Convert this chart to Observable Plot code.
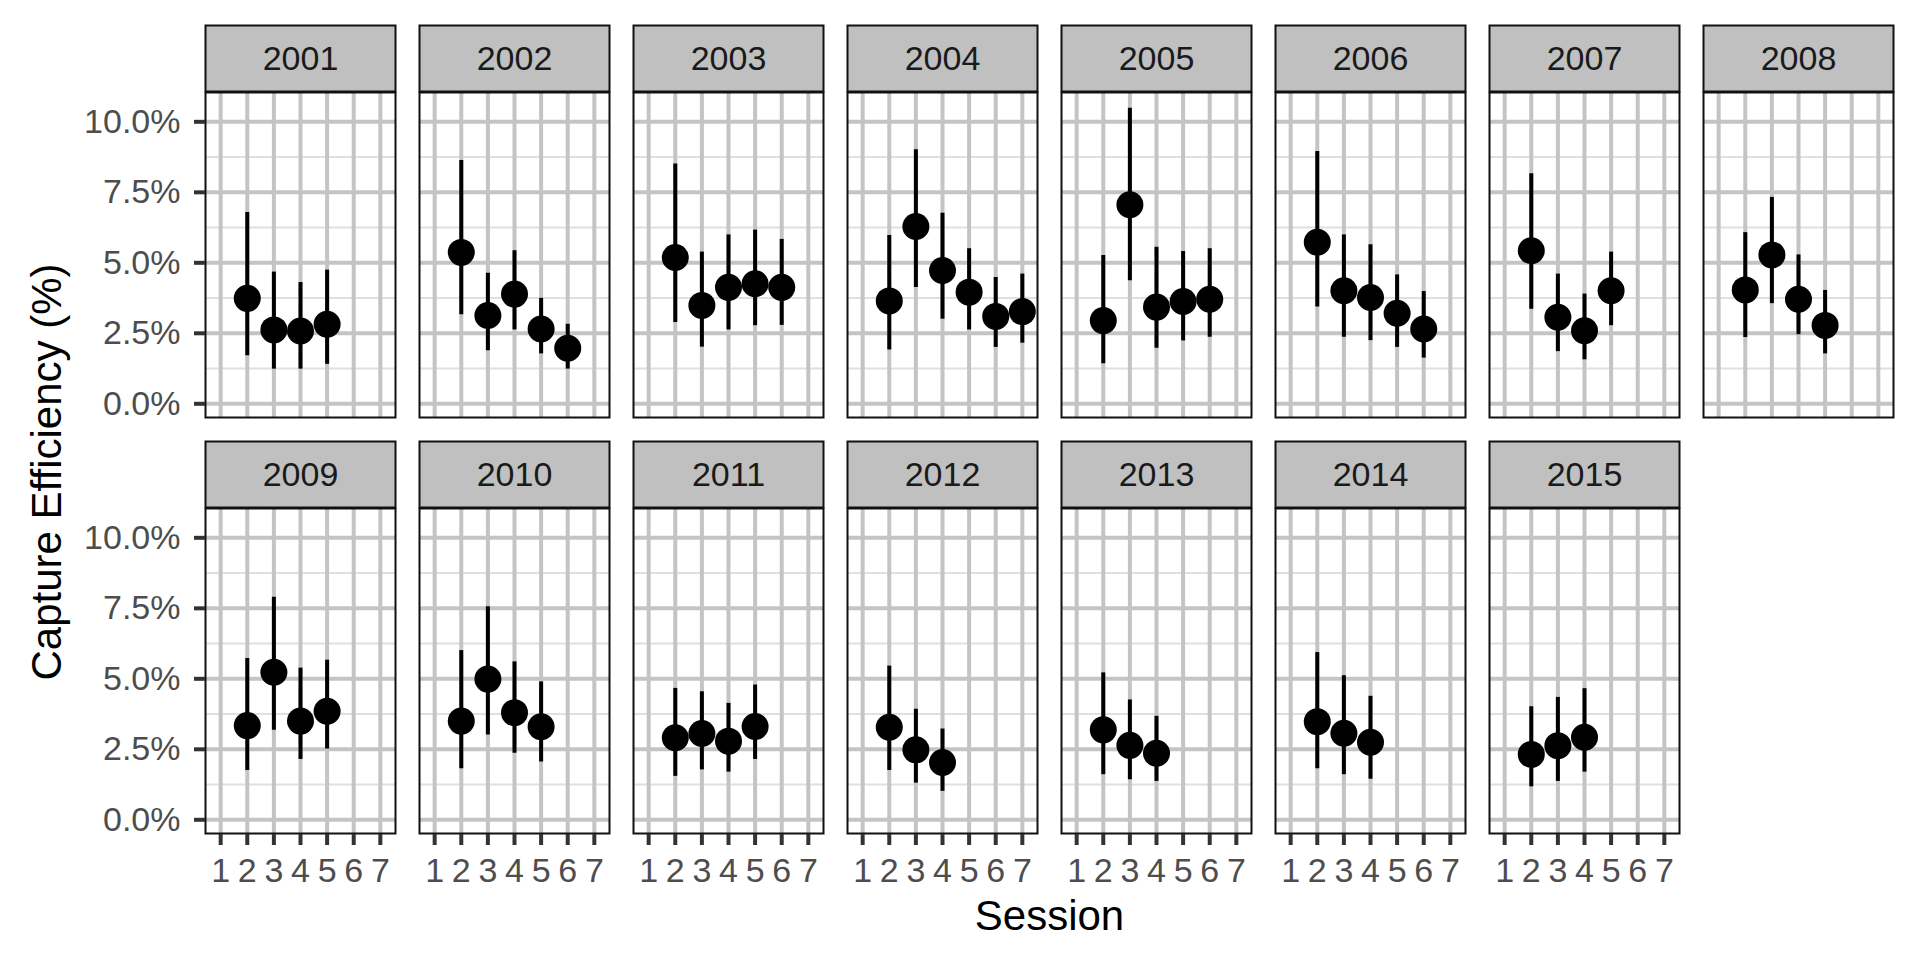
<!DOCTYPE html>
<html>
<head>
<meta charset="utf-8">
<script src="https://cdn.jsdelivr.net/npm/d3@7"></script>
<script src="https://cdn.jsdelivr.net/npm/@observablehq/plot@0.6"></script>
<style>
  html, body { margin: 0; padding: 0; background: #fff; }
  #chart { width: 1920px; height: 960px; }
</style>
</head>
<body>
<div id="chart"></div>
<script>
// ---- data (capture efficiency, %) ----
const years = [2001, 2002, 2003, 2004, 2005, 2006, 2007, 2008, 2009, 2010, 2011, 2012, 2013, 2014, 2015];
const sessions = [
  [2, 3, 4, 5], [2, 3, 4, 5, 6], [2, 3, 4, 5, 6], [2, 3, 4, 5, 6, 7], [2, 3, 4, 5, 6],
  [2, 3, 4, 5, 6], [2, 3, 4, 5], [2, 3, 4, 5], [2, 3, 4, 5], [2, 3, 4, 5],
  [2, 3, 4, 5], [2, 3, 4], [2, 3, 4], [2, 3, 4], [2, 3, 4]
];
const estimate = [
  [3.74, 2.62, 2.58, 2.82],
  [5.37, 3.13, 3.89, 2.65, 1.97],
  [5.19, 3.49, 4.13, 4.26, 4.13],
  [3.65, 6.29, 4.73, 3.96, 3.10, 3.27],
  [2.95, 7.06, 3.43, 3.63, 3.71],
  [5.73, 4.01, 3.77, 3.21, 2.65],
  [5.43, 3.07, 2.59, 4.01],
  [4.04, 5.28, 3.71, 2.78],
  [3.34, 5.23, 3.50, 3.85],
  [3.50, 4.99, 3.80, 3.30],
  [2.91, 3.06, 2.79, 3.31],
  [3.28, 2.48, 2.03],
  [3.19, 2.64, 2.36],
  [3.48, 3.07, 2.75],
  [2.32, 2.63, 2.93]
];
const lower = [
  [1.70, 1.23, 1.23, 1.40],
  [3.16, 1.88, 2.62, 1.77, 1.23],
  [2.88, 2.01, 2.62, 2.77, 2.78],
  [1.91, 4.12, 3.00, 2.62, 2.00, 2.15],
  [1.42, 4.36, 1.97, 2.23, 2.36],
  [3.43, 2.36, 2.24, 2.00, 1.62],
  [3.35, 1.85, 1.56, 2.77],
  [2.35, 3.55, 2.45, 1.77],
  [1.75, 3.18, 2.14, 2.51],
  [1.81, 3.01, 2.36, 2.05],
  [1.54, 1.77, 1.69, 2.14],
  [1.75, 1.30, 1.01],
  [1.60, 1.42, 1.36],
  [1.81, 1.60, 1.44],
  [1.17, 1.36, 1.69]
];
const upper = [
  [6.78, 4.67, 4.30, 4.74],
  [8.63, 4.63, 5.43, 3.74, 2.82],
  [8.50, 5.38, 5.99, 6.16, 5.83],
  [5.97, 9.01, 6.76, 5.50, 4.48, 4.60],
  [5.26, 10.48, 5.55, 5.40, 5.50],
  [8.95, 5.99, 5.64, 4.57, 3.98],
  [8.16, 4.60, 3.89, 5.38],
  [6.07, 7.32, 5.28, 4.02],
  [5.72, 7.89, 5.38, 5.66],
  [6.00, 7.56, 5.60, 4.89],
  [4.66, 4.54, 4.13, 4.78],
  [5.45, 3.92, 3.22],
  [5.21, 4.25, 3.67],
  [5.93, 5.11, 4.38],
  [4.01, 4.34, 4.65]
];
const xTicks = [1, 2, 3, 4, 5, 6, 7];
const yTicks = [0, 2.5, 5, 7.5, 10];
const yMinor = [1.25, 3.75, 6.25, 8.75];
const nCols = 8;

// ---- build tables ----
const rows = [];
const strips = [];
years.forEach((yr, i) => {
  const col = i % nCols, row = Math.floor(i / nCols);
  strips.push({year: String(yr), col, row});
  sessions[i].forEach((s, j) => {
    rows.push({year: yr, col, row, session: s, est: estimate[i][j], lo: lower[i][j], hi: upper[i][j]});
  });
});
const nRows = Math.ceil(years.length / nCols);
// x-axis ticks only under the panels of the bottom row that exist
const axisRows = strips.filter(d => d.row === nRows - 1)
  .flatMap(d => xTicks.map(t => ({col: d.col, row: d.row, tick: t})));

const panelH = 326;
const stripH = 67;
const font = "'Liberation Sans', Arial, Helvetica, sans-serif";

const plot = Plot.plot({
  width: 1920,
  height: 960,
  marginLeft: 202,
  marginRight: 23,
  marginTop: 91,
  marginBottom: 126,
  style: {fontFamily: font, background: "white"},
  fx: {domain: d3.range(nCols), paddingInner: 0.1116, paddingOuter: 0, axis: null},
  fy: {domain: d3.range(nRows), paddingInner: 0.218, paddingOuter: 0, axis: null},
  x: {domain: [0.43, 7.57], axis: null},
  y: {domain: [-0.486, 11.04]},
  marks: [
    Plot.ruleY(yMinor, {stroke: "#e0e0e0", strokeWidth: 2}),
    Plot.gridX({ticks: xTicks, stroke: "#c4c4c4", strokeWidth: 4, strokeOpacity: 1}),
    Plot.gridY({ticks: yTicks, stroke: "#c4c4c4", strokeWidth: 4, strokeOpacity: 1}),
    Plot.ruleX(rows, {x: "session", y1: "lo", y2: "hi", fx: "col", fy: "row", stroke: "black", strokeWidth: 4}),
    Plot.dot(rows, {x: "session", y: "est", fx: "col", fy: "row", r: 13.5, fill: "black", stroke: "none"}),
    Plot.frame({stroke: "#111111", strokeWidth: 2}),
    Plot.frame({fill: "#c0c0c0", stroke: "#111111", strokeWidth: 2, insetTop: -stripH, insetBottom: panelH}),
    Plot.text(strips, {fx: "col", fy: "row", text: "year", frameAnchor: "top", dy: -stripH / 2, lineAnchor: "middle", fontSize: 34, fill: "#1a1a1a"}),
    Plot.axisY({facetAnchor: "left", ticks: yTicks, tickFormat: d => d.toFixed(1) + "%", tickSize: 11, tickPadding: 14, strokeWidth: 4, stroke: "#333333", fill: "#4d4d4d", fontSize: 34, label: null}),
    // custom bottom x axis (ticks + labels), faceted by its own data
    Plot.tickX(axisRows, {x: "tick", fx: "col", fy: "row", stroke: "#333333", strokeWidth: 4, insetTop: panelH, insetBottom: -12}),
    Plot.text(axisRows, {x: "tick", fx: "col", fy: "row", text: d => String(d.tick), frameAnchor: "bottom", dy: 24, lineAnchor: "top", fontSize: 34, fill: "#4d4d4d"})
  ]
});

const svg = d3.select(plot);
svg.append("text")
  .attr("x", 1049.5).attr("y", 930)
  .attr("text-anchor", "middle")
  .attr("font-family", font).attr("font-size", 42).attr("fill", "black")
  .text("Session");
svg.append("text")
  .attr("transform", "translate(61,472) rotate(-90)")
  .attr("text-anchor", "middle")
  .attr("font-family", font).attr("font-size", 42).attr("fill", "black")
  .text("Capture Efficiency (%)");

document.getElementById("chart").appendChild(plot);
</script>
</body>
</html>
